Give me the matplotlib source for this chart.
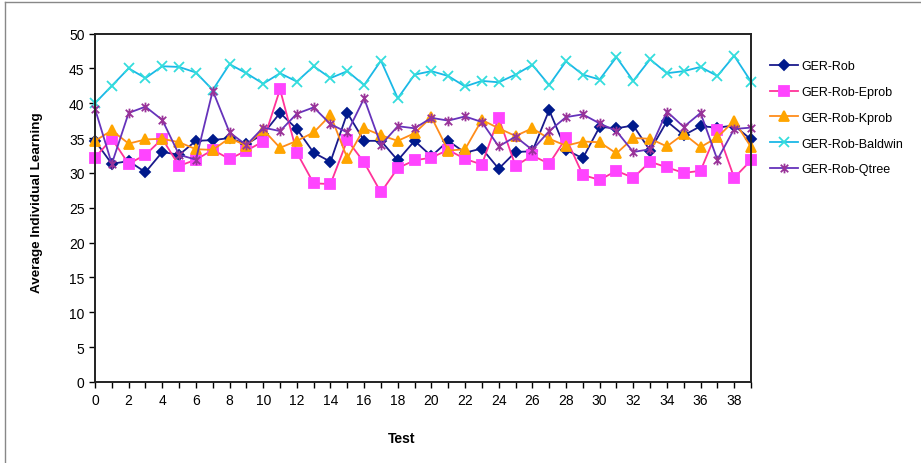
import numpy as np
import matplotlib.pyplot as plt
from matplotlib.path import Path
from matplotlib.lines import Line2D

plt.rcParams["font.family"] = ["Liberation Sans", "DejaVu Sans"]
plt.rcParams["font.size"] = 10

# Medias de aprendizado individual por teste (0..39)
testes = list(range(40))

ger_rob = [34.6, 31.3, 31.7, 30.1, 33.0, 32.6, 34.6, 34.7, 35.0, 34.1,
           35.6, 38.6, 36.3, 32.9, 31.6, 38.6, 34.6, 34.6, 31.8, 34.6,
           32.4, 34.6, 32.9, 33.5, 30.6, 33.0, 33.1, 39.0, 33.3, 32.1,
           36.6, 36.4, 36.8, 33.2, 37.4, 35.4, 36.7, 36.5, 36.8, 34.8]

ger_rob_eprob = [32.2, 34.9, 31.3, 32.6, 34.9, 31.0, 31.9, 33.3, 32.0, 33.2,
                 34.5, 42.0, 32.9, 28.5, 28.4, 34.7, 31.5, 27.2, 30.7, 31.8,
                 32.2, 33.3, 32.0, 31.2, 37.9, 31.0, 32.5, 31.3, 35.0, 29.7,
                 29.0, 30.3, 29.3, 31.6, 30.8, 30.0, 30.3, 36.1, 29.3, 31.8]

ger_rob_kprob = [34.6, 36.1, 34.2, 34.8, 34.9, 34.4, 33.4, 33.3, 35.0, 33.9,
                 36.2, 33.6, 34.6, 35.8, 38.3, 32.1, 36.4, 35.4, 34.6, 35.7,
                 38.0, 33.2, 33.4, 37.6, 36.4, 35.3, 36.4, 34.9, 33.9, 34.5,
                 34.4, 32.8, 35.0, 34.9, 33.8, 35.6, 33.7, 35.1, 37.5, 33.7]

ger_rob_baldwin = [40.0, 42.5, 45.0, 43.6, 45.3, 45.2, 44.4, 41.9, 45.6, 44.3,
                   42.8, 44.3, 43.1, 45.3, 43.6, 44.6, 42.6, 46.1, 40.7, 44.1,
                   44.6, 43.9, 42.4, 43.2, 43.0, 44.1, 45.5, 42.6, 46.0, 44.1,
                   43.4, 46.6, 43.2, 46.3, 44.3, 44.6, 45.2, 43.9, 46.8, 43.1]

ger_rob_qtree = [39.2, 31.3, 38.6, 39.5, 37.6, 32.6, 31.9, 41.8, 35.8, 34.0,
                 36.5, 36.0, 38.5, 39.4, 37.0, 35.8, 40.7, 34.0, 36.7, 36.4,
                 37.9, 37.5, 38.1, 37.3, 33.8, 35.2, 33.3, 36.0, 38.0, 38.4,
                 37.1, 36.0, 33.0, 33.4, 38.8, 36.6, 38.6, 31.9, 36.3, 36.5]

# Marcador asterisco: um "x" com um traco vertical
asterisco = Path(
    [(-1, -1), (1, 1), (-1, 1), (1, -1), (0, -1.3), (0, 1.3)],
    [Path.MOVETO, Path.LINETO, Path.MOVETO, Path.LINETO, Path.MOVETO, Path.LINETO],
)

fig = plt.figure(figsize=(9.21, 4.64), dpi=100)
ax = fig.add_axes([95 / 921, 1 - 383 / 464, 656 / 921, 348.5 / 464])

# Moldura externa
fig.add_artist(Line2D([5 / 921, 5 / 921], [0, 1 - 3 / 464], color="#888888", lw=1.0))
fig.add_artist(Line2D([5 / 921, 1], [1 - 3 / 464, 1 - 3 / 464], color="#888888", lw=1.0))

series = [
    (ger_rob, "GER-Rob", "#1a1a8c", "D", "#001a8c", 5.5),
    (ger_rob_eprob, "GER-Rob-Eprob", "#ff3399", "s", "#ff44ff", 7),
    (ger_rob_kprob, "GER-Rob-Kprob", "#ff8c1a", "^", "#ffa500", 7.5),
    (ger_rob_baldwin, "GER-Rob-Baldwin", "#1ab8e6", "x", "#33dddd", 7),
    (ger_rob_qtree, "GER-Rob-Qtree", "#6633bb", asterisco, "#993399", 7),
]

for valores, nome, cor_linha, marcador, cor_marcador, tam in series:
    ax.plot(testes, valores, color=cor_linha, lw=1.3, marker=marcador,
            markersize=tam, markerfacecolor=cor_marcador,
            markeredgecolor=cor_marcador, markeredgewidth=1.3, label=nome,
            clip_on=False)

ax.set_xlim(0, 39)
ax.set_ylim(0, 50)
ax.set_xticks(range(0, 39, 2))
ax.set_xticks(range(0, 40), minor=True)
ax.set_yticks(range(0, 51, 5))
ax.tick_params(which="both", direction="out", length=4, width=1, colors="black",
               labelsize=10)
ax.tick_params(axis="x", pad=4)
for lado in ax.spines.values():
    lado.set_linewidth(1.4)
    lado.set_color("#222222")

ax.set_xlabel("Test", fontweight="bold", fontsize=10)
ax.set_ylabel("Average Individual Learning", fontweight="bold", fontsize=9.7)
ax.xaxis.set_label_coords(0.468, -0.1406)
ax.yaxis.set_label_coords(-0.0793, 0.5165)

ax.legend(loc="upper left", bbox_to_anchor=(759 / 921, 1 - 50 / 464),
          bbox_transform=fig.transFigure, frameon=False, handlelength=2.2,
          labelspacing=1.1, handletextpad=0.25, borderpad=0.4, fontsize=9)

fig.savefig("out.png", dpi=100)
